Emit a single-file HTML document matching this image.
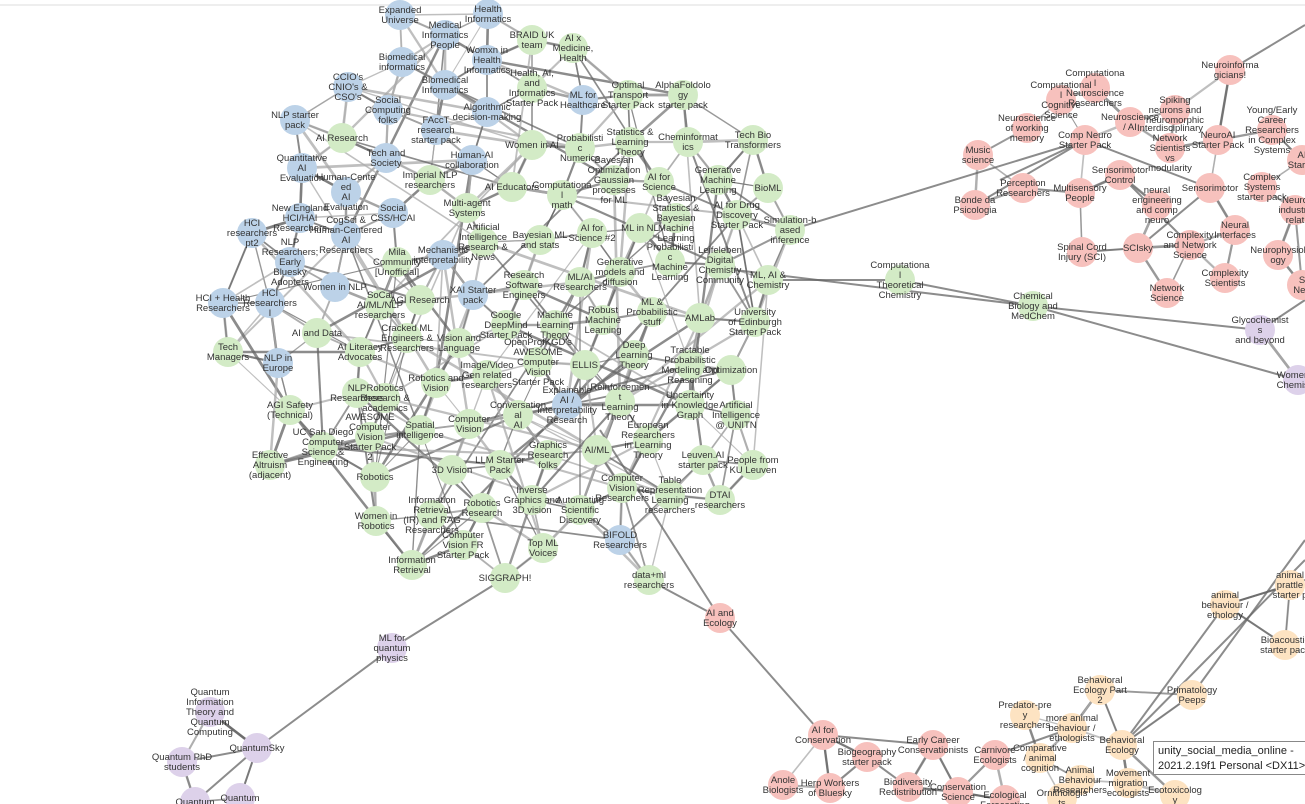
<!DOCTYPE html>
<html><head><meta charset="utf-8">
<style>
html,body{margin:0;padding:0;background:#fff;width:1305px;height:804px;overflow:hidden}
svg{display:block}
text{font-family:"Liberation Sans",Arial,sans-serif;font-size:9.5px;fill:#333}
#tip{position:absolute;left:1153px;top:741px;width:160px;height:34px;background:#fff;border:1px solid #888;font:11px "Liberation Sans",sans-serif;color:#222;padding:2px 4px;box-sizing:border-box;line-height:15px;white-space:nowrap;overflow:hidden}
</style></head><body>
<svg id="s" width="1305" height="804" xmlns="http://www.w3.org/2000/svg">
<line x1="0" y1="5" x2="1305" y2="5" stroke="#ddd" stroke-width="1"/>
<g id="E"></g><g id="N"></g>
</svg>
<div id="tip">unity_social_media_online - <br>2021.2.19f1 Personal &lt;DX11&gt;</div>
<script>
var G="#d3ebc6",B="#bcd2e8",R="#f7c1bd",O="#fde3c2",P="#ddd1ea";
var nodes=[
[400,15,B,"Expanded|Universe"],[488,14,B,"Health|Informatics"],[445,35,B,"Medical|Informatics|People"],[532,40,G,"BRAID UK|team"],[573,48,G,"AI x|Medicine,|Health"],
[402,62,B,"Biomedical|informatics"],[487,60,B,"Womxn in|Health|Informatics"],[348,87,B,"CCIO's|CNIO's &|CSO's"],[445,85,B,"Biomedical|Informatics"],[532,88,G,"Health, AI,|and|Informatics|Starter Pack"],
[583,100,B,"ML for|Healthcare"],[628,95,G,"Optimal|Transport|Starter Pack"],[683,95,G,"AlphaFoldolo|gy|starter pack"],[295,120,B,"NLP starter|pack"],[388,110,B,"Social|Computing|folks"],
[487,112,B,"Algorithmic|decision-making"],[342,138,G,"AI Research"],[436,130,B,"FAccT|research|starter pack"],[532,145,G,"Women in AI"],[580,148,G,"Probabilisti|c|Numerics"],
[630,142,G,"Statistics &|Learning|Theory"],[688,142,G,"Cheminformat|ics"],[753,140,G,"Tech Bio|Transformers"],[386,158,B,"Tech and|Society"],[302,168,B,"Quantitative|AI|Evaluation"],
[472,160,B,"Human-AI|collaboration"],[614,180,G,"Bayesian|Optimization|Gaussian|processes|for ML"],[718,180,G,"Generative|Machine|Learning"],[346,192,B,"Human-Cente|ed|AI|Evaluation"],[430,180,G,"Imperial NLP|researchers"],
[512,187,G,"AI Educators"],[562,195,G,"Computationa|l|math"],[659,182,G,"AI for|Science"],[768,188,G,"BioML"],[300,218,B,"New England|HCI/HAI|Researchers"],
[393,213,B,"Social|CSS/HCAI"],[467,208,G,"Multi-agent|Systems"],[252,233,B,"HCI|researchers|pt2"],[346,235,B,"CogSci &|Human-Centered|AI|Researchers"],[483,242,G,"Artificial|Intelligence|Research &|News"],
[540,240,G,"Bayesian ML|and stats"],[592,233,G,"AI for|Science #2"],[640,228,G,"ML in NL"],[676,218,G,"Bayesian|Statistics &|Bayesian|Machine|Learning"],[737,215,G,"AI for Drug|Discovery|Starter Pack"],
[790,230,G,"Simulation-b|ased|inference"],[290,262,B,"NLP|Researchers;|Early|Bluesky|Adopters"],[397,262,G,"Mila|Community|[Unofficial]"],[443,255,B,"Mechanistic|interpretability"],[580,282,G,"ML/AI|Researchers"],
[620,272,G,"Generative|models and|diffusion"],[670,262,G,"Probabilisti|c|Machine|Learning"],[524,285,G,"Research|Software|Engineers"],[720,265,G,"Leifeleben|Digital|Chemistry|Community"],[768,280,G,"ML, AI &|Chemistry"],
[900,280,G,"Computationa|l|Theoretical|Chemistry"],[335,287,B,"Women in NLP"],[473,295,B,"XAI Starter|pack"],[420,300,G,"AGI Research"],[223,303,B,"HCI + Health|Researchers"],
[270,303,B,"HCI|Researchers|I"],[380,305,G,"SoCal|AI/ML/NLP|researchers"],[506,325,G,"Google|DeepMind|Starter Pack"],[603,320,G,"Robust|Machine|Learning"],[652,312,G,"ML &|Probabilistic|stuff"],
[700,318,G,"AMLab"],[755,322,G,"University|of Edinburgh|Starter Pack"],[555,325,G,"Machine|Learning|Theory"],[407,338,G,"Cracked ML|Engineers &|Researchers"],[317,333,G,"AI and Data"],
[459,343,G,"Vision and|Language"],[228,352,G,"Tech|Managers"],[278,363,B,"NLP in|Europe"],[360,352,G,"AI Literacy|Advocates"],[538,362,G,"OpenProfKGD's|AWESOME|Computer|Vision|Starter Pack"],
[585,365,G,"ELLIS"],[634,355,G,"Deep|Learning|Theory"],[690,365,G,"Tractable|Probabilistic|Modeling and|Reasoning"],[731,370,G,"Optimization"],[487,375,G,"Image/Video|Gen related|researchers"],
[436,383,G,"Robotics and|Vision"],[357,393,G,"NLP|Researchers"],[385,398,G,"Robotics|Research &|academics"],[620,402,G,"Reinforcemen|t|Learning|Theory"],[290,410,G,"AGI Safety|(Technical)"],
[567,405,B,"Explainable|AI /|Interpretability|Research"],[690,405,G,"Uncertainty|in Knowledge|Graph"],[736,415,G,"Artificial|Intelligence|@ UNITN"],[370,437,G,"AWESOME|Computer|Vision|Starter Pack|2"],[420,430,G,"Spatial|intelligence"],
[469,424,G,"Computer|Vision"],[518,415,G,"Conversation|al|AI"],[323,447,G,"UC San Diego|Computer|Science &|Engineering"],[648,440,G,"European|Researchers|in Learning|Theory"],[548,455,G,"Graphics|Research|folks"],
[597,450,G,"AI/ML"],[270,465,G,"Effective|Altruism|(adjacent)"],[375,477,G,"Robotics"],[452,470,G,"3D Vision"],[500,465,G,"LLM Starter|Pack"],
[703,460,G,"Leuven.AI|starter pack"],[753,465,G,"People from|KU Leuven"],[622,488,G,"Computer|Vision|Researchers"],[670,495,G,"Table|Representation|Learning|researchers"],[720,500,G,"DTAI|researchers"],
[432,515,G,"Information|Retrieval|(IR) and RAG|Researchers"],[482,508,G,"Robotics|Research"],[532,500,G,"Inverse|Graphics and|3D vision"],[580,510,G,"Automating|Scientific|Discovery"],[376,521,G,"Women in|Robotics"],
[463,545,G,"Computer|Vision FR|Starter Pack"],[543,548,G,"Top ML|Voices"],[620,540,B,"BIFOLD|Researchers"],[412,565,G,"Information|Retrieval"],[505,578,G,"SIGGRAPH!"],
[649,580,G,"data+ml|researchers"],
[720,618,R,"AI and|Ecology"],[392,648,P,"ML for|quantum|physics"],[823,735,R,"AI for|Conservation"],[1033,306,G,"Chemical|Biology and|MedChem"],[1260,330,P,"Glycochemist|s|and beyond"],[1298,380,P,"Women in|Chemistry"],
[1230,70,R,"Neuroinforma|gicians!"],[1095,88,R,"Computationa|l|Neuroscience|Researchers"],[1061,100,R,"Computational|l|Cognitive|Science"],[1175,110,R,"Spiking|neurons and|neuromorphic"],[1130,122,R,"Neuroscience|/ AI"],
[1272,130,R,"Young/Early|Career|Researchers|in Complex|Systems"],[1027,128,R,"Neuroscience|of working|memory"],[1085,140,R,"Comp Neuro|Starter Pack"],[1218,140,R,"NeuroAI|Starter Pack"],[1302,160,R,"AI|Starter"],
[978,155,R,"Music|science"],[1170,148,R,"Interdisciplinary|Network|Scientists|vs|modularity"],[1120,175,R,"Sensorimotor|Control"],[1210,188,R,"Sensorimotor"],[1262,187,R,"Complex|Systems|starter pack"],
[1023,188,R,"Perception|Researchers"],[1080,193,R,"Multisensory|People"],[1157,205,R,"neural|engineering|and comp|neuro"],[975,205,R,"Bonde da|Psicologia"],[1295,210,R,"Neuro|industry|relat"],
[1235,230,R,"Neural|Interfaces"],[1190,245,R,"Complexity|and Network|Science"],[1082,252,R,"Spinal Cord|Injury (SCI)"],[1138,248,R,"SCIsky"],[1278,255,R,"Neurophysiol|ogy"],
[1225,278,R,"Complexity|Scientists"],[1167,293,R,"Network|Science"],[1302,285,R,"S|Neu"],
[1290,585,O,"animal|prattle|starter p"],[1225,605,O,"animal|behaviour /|ethology"],[1285,645,O,"Bioacoustic|starter pack"],[1100,690,O,"Behavioral|Ecology Part|2"],[1192,695,O,"Primatology|Peeps"],
[1025,715,O,"Predator-pre|y|researchers"],[1072,728,O,"more animal|behaviour /|ethologists"],[1122,745,O,"Behavioral|Ecology"],[1040,758,O,"Comparative|/ animal|cognition"],[1080,780,O,"Animal|Behaviour|Researchers"],
[1128,783,O,"Movement|migration|ecologists"],[1175,795,O,"Ecotoxicolog|y"],[1062,798,O,"Ornithologis|ts"],
[933,745,R,"Early Career|Conservationists"],[995,755,R,"Carnivore|Ecologists"],[867,757,R,"Biogeography|starter pack"],[908,787,R,"Biodiversity|Redistribution"],[958,792,R,"Conservation|Science"],[1005,800,R,"Ecological|Forecasting"],
[783,785,R,"Anole|Biologists"],[830,788,R,"Herp Workers|of Bluesky"],
[210,712,P,"Quantum|Information|Theory and|Quantum|Computing"],[257,748,P,"QuantumSky"],[182,762,P,"Quantum PhD|students"],[195,802,P,"Quantum"],[240,798,P,"Quantum"]
];
var ns="http://www.w3.org/2000/svg",E=document.getElementById("E"),N=document.getElementById("N");
function ln(a,b,w,c){var l=document.createElementNS(ns,"line");l.setAttribute("x1",a[0]);l.setAttribute("y1",a[1]);l.setAttribute("x2",b[0]);l.setAttribute("y2",b[1]);l.setAttribute("stroke",c||"#777");l.setAttribute("stroke-width",w||1.5);l.setAttribute("stroke-opacity",0.75);E.appendChild(l);}
var seed=7;function rnd(){seed=(seed*16807)%2147483647;return seed/2147483647;}
function d2(a,b){return (a[0]-b[0])*(a[0]-b[0])+(a[1]-b[1])*(a[1]-b[1]);}
var clusters={};nodes.forEach(function(n,i){var k=(n[2]==B?G:n[2]);if(n[0]>880&&k==G)k="X";(clusters[k]=clusters[k]||[]).push(i);});
[G,R,O,P].forEach(function(k){var idx=clusters[k]||[];var dense=(k==G)?4:2;var far=(k==G)?3:0;
idx.forEach(function(i){var a=nodes[i];var s=idx.slice().sort(function(x,y){return d2(a,nodes[x])-d2(a,nodes[y]);});
for(var j=1;j<=dense&&j<s.length;j++){if(d2(a,nodes[s[j]])<120*120)ln(a,nodes[s[j]],1+rnd()*1.8,rnd()<0.5?"#777":"#aaa");}
for(var j=0;j<far;j++){var b=nodes[idx[Math.floor(rnd()*idx.length)]];if(d2(a,b)<230*230)ln(a,b,1+rnd()*1.8,rnd()<0.5?"#666":"#aaa");}
});});
var extra=[[[768,280],[900,280]],[[900,280],[1033,306]],[[735,270],[1033,306]],[[1033,306],[1260,330]],[[1033,306],[1298,380]],[[790,230],[1085,140]],[[1230,70],[1305,25]],[[649,580],[720,618]],[[600,430],[720,618]],[[720,618],[823,735]],[[505,578],[392,648]],[[392,648],[257,748]],[[823,735],[867,757]],[[823,735],[830,788]],[[823,735],[933,745]],[[1122,745],[1225,605]],[[1122,745],[1305,560]],[[1192,695],[1305,540]],[[1225,605],[1305,580]],[[1225,605],[1285,645]],[[1122,745],[1100,690]],[[1122,745],[1192,695]],[[995,755],[1072,728]],[[1000,180],[1085,140]],[[975,205],[1085,140]],[[1023,188],[1080,193]],[[1082,252],[1138,248]],[[1138,248],[1210,188]],[[1260,330],[1305,300]],[[1298,380],[1305,390]],[[257,748],[182,762]],[[257,748],[210,712]],[[257,748],[195,802]],[[257,748],[240,798]],[[252,233],[223,303]],[[933,745],[958,792]],[[908,787],[958,792]],[[867,757],[908,787]],[[958,792],[1005,800]],[[1085,140],[1210,188]],[[1120,175],[1190,245]],[[1218,140],[1230,70]]];
extra.forEach(function(e){ln(e[0],e[1],2,"#666");});
nodes.forEach(function(n){var c=document.createElementNS(ns,"circle");c.setAttribute("cx",n[0]);c.setAttribute("cy",n[1]);c.setAttribute("r",15);c.setAttribute("fill",n[2]);N.appendChild(c);});
nodes.forEach(function(n){var ls=n[3].split("|");var t=document.createElementNS(ns,"text");t.setAttribute("text-anchor","middle");
var y0=n[1]-(ls.length-1)*5+3;ls.forEach(function(s,i){var sp=document.createElementNS(ns,"tspan");sp.setAttribute("x",n[0]);sp.setAttribute("y",y0+i*10);sp.textContent=s;t.appendChild(sp);});N.appendChild(t);});
</script>
</body></html>
